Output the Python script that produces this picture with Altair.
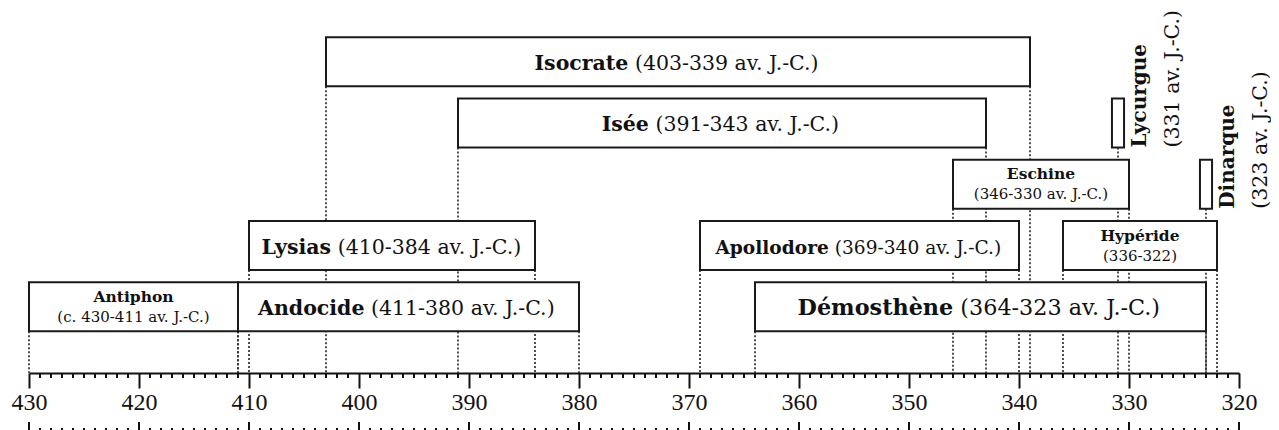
import altair as alt
import pandas as pd

# ---------------- data ----------------
names = ["Antiphon", "Andocide", "Lysias", "Isocrate", "Isée", "Démosthène",
         "Apollodore", "Eschine", "Hypéride", "Lycurgue", "Dinarque"]
date_labels = ["(c. 430-411 av. J.-C.)", "(411-380 av. J.-C.)", "(410-384 av. J.-C.)",
               "(403-339 av. J.-C.)", "(391-343 av. J.-C.)", "(364-323 av. J.-C.)",
               "(369-340 av. J.-C.)", "(346-330 av. J.-C.)", "(336-322)",
               "(331 av. J.-C.)", "(323 av. J.-C.)"]
starts = [430, 411, 410, 403, 391, 364, 369, 346, 336, 331, 323]
ends = [411, 380, 384, 339, 343, 323, 340, 330, 322, 331, 323]
lanes = [5, 5, 4, 1, 2, 5, 4, 3, 4, 2, 3]
label_kinds = ["small", "big", "big", "big", "big", "big", "big", "small", "small",
               "vertical", "vertical"]
axis_years = list(range(430, 319, -10))
all_years = list(range(430, 319, -1))

# ---------------- layout / style ----------------
W, H = 1210, 365
PX_PER_YEAR = W / 110.0
Y_TOP, Y_AXIS = 0.1224, 6.0816          # lane-units at plot top / axis line
HALF = 0.4                              # half box height in lane units
SINGLE_HALF = 0.55                      # half width (years) of single-year boxes
SERIF = "DejaVu Serif"
BIG = 20.5
BIG_SIZE_OVERRIDE = {"Démosthène": 22.3, "Apollodore": 18.6}

BOLD_W = {'A': .774, 'D': .830, 'E': .733, 'H': .964, 'I': .468, 'L': .718,
          'a': .674, 'c': .592, 'd': .712, 'e': .678, 'g': .712, 'h': .712, 'i': .384,
          'l': .384, 'm': 1.058, 'n': .712, 'o': .686, 'p': .716, 'q': .712, 'r': .539,
          's': .592, 't': .477, 'u': .712, 'y': .651, 'é': .678, 'è': .678}
REG_W = {' ': .318, '(': .390, ')': .390, '-': .338, '.': .318, 'a': .596, 'c': .560,
         'v': .565, 'J': .472, 'C': .733}


def text_w(s, table, size):
    tot = 0.0
    for ch in s:
        if ch.isdigit():
            tot += .636
        else:
            tot += table.get(ch, .6)
    return tot * size


boxes, dots, big_names, big_dates, small_names, small_dates, v_names, v_dates = ([] for _ in range(8))
for n, d, s, e, ln, k in zip(names, date_labels, starts, ends, lanes, label_kinds):
    single = s == e
    boxes.append({"x": s + SINGLE_HALF if single else s,
                  "x2": e - SINGLE_HALF if single else e,
                  "y": ln - HALF, "y2": ln + HALF})
    for yr in sorted({s, e}):
        dots.append({"x": yr, "y": ln + HALF, "y2": Y_AXIS})
    c = (s + e) / 2.0
    if k == "big":
        fs = BIG_SIZE_OVERRIDE.get(n, BIG)
        wn = text_w(n, BOLD_W, fs)
        wd = text_w(d, REG_W, fs)
        sp = 0.318 * fs
        junction = -(wn + sp + wd) / 2.0 + wn
        big_names.append({"x": c - junction / PX_PER_YEAR, "y": ln, "t": n, "fs": fs})
        big_dates.append({"x": c - (junction + sp) / PX_PER_YEAR, "y": ln, "t": d, "fs": fs})
    elif k == "small":
        small_names.append({"x": c, "y": ln, "t": n})
        small_dates.append({"x": c, "y": ln, "t": d})
    else:
        v_names.append({"x": c - 22 / PX_PER_YEAR, "y": ln + HALF, "t": n})
        v_dates.append({"x": c - 55 / PX_PER_YEAR, "y": ln + HALF, "t": d})

minor = [{"x": y} for y in all_years if y % 10 != 0]
major = [{"x": y} for y in axis_years]

xs = alt.Scale(domain=[320, 430], reverse=True, nice=False, zero=False)
ys = alt.Scale(domain=[Y_TOP, Y_AXIS], reverse=True, nice=False, zero=False)

x_axis = alt.Axis(values=axis_years, format="d", title=None, grid=False,
                  domain=True, domainColor="#111", domainWidth=2,
                  ticks=True, tickColor="#111", tickWidth=2, tickSize=15,
                  labelFont="Liberation Serif", labelFontSize=24, labelColor="#111",
                  labelPadding=2, labelFlush=False, labelOverlap=False)


def X(f="x"):
    return alt.X(f"{f}:Q", scale=xs, axis=x_axis)


def Y(f="y"):
    return alt.Y(f"{f}:Q", scale=ys, axis=None)


dotted = alt.Chart(pd.DataFrame(dots)).mark_rule(
    color="#222", strokeWidth=1.6, strokeDash=[2, 2]
).encode(x=X("x"), y=Y("y"), y2="y2:Q")

rects = alt.Chart(pd.DataFrame(boxes)).mark_rect(
    fill="white", stroke="#1a1a1a", strokeWidth=2
).encode(x=X("x"), x2="x2:Q", y=Y("y"), y2="y2:Q")

minor_ticks = alt.Chart(pd.DataFrame(minor)).mark_rule(color="#111", strokeWidth=2).encode(
    x=X("x"), y=alt.value(H), y2=alt.value(H + 5))
low_major = alt.Chart(pd.DataFrame(major)).mark_rule(color="#111", strokeWidth=2).encode(
    x=X("x"), y=alt.value(H + 49), y2=alt.value(H + 64))
low_minor = alt.Chart(pd.DataFrame(minor)).mark_rule(color="#111", strokeWidth=2).encode(
    x=X("x"), y=alt.value(H + 55), y2=alt.value(H + 64))


def txt(rows, sized=False, **kw):
    enc = dict(x=X("x"), y=Y("y"), text="t:N")
    if sized:
        enc["size"] = alt.Size("fs:Q", scale=None, legend=None)
    return alt.Chart(pd.DataFrame(rows)).mark_text(font=SERIF, color="#111", **kw).encode(**enc)


layers = [
    dotted, rects, minor_ticks, low_major, low_minor,
    txt(big_names, sized=True, fontWeight="bold", align="right", baseline="alphabetic", dy=8),
    txt(big_dates, sized=True, align="left", baseline="alphabetic", dy=8),
    txt(small_names, fontSize=15.5, fontWeight="bold", align="center", baseline="alphabetic", dy=-5),
    txt(small_dates, fontSize=15, align="center", baseline="alphabetic", dy=15),
    txt(v_names, fontSize=20, fontWeight="bold", angle=270, align="left", baseline="middle"),
    txt(v_dates, fontSize=20.5, angle=270, align="left", baseline="middle"),
]

chart = alt.layer(*layers).properties(
    width=W, height=H,
    autosize=alt.AutoSizeParams(type="none"),
    padding={"left": 21, "top": 0, "right": 32, "bottom": 57},
).configure(background="white").configure_view(strokeWidth=0)

chart.save("out.html", embed_options={"renderer": "svg", "actions": False})
